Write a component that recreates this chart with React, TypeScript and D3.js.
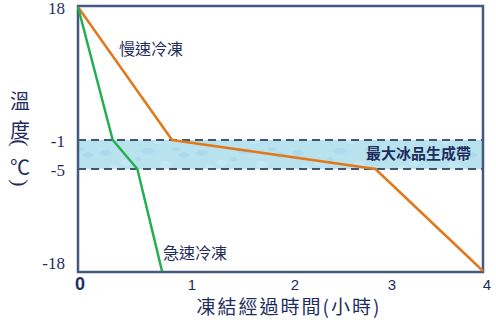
import React from "react";
import * as d3 from "d3";

const tempTicks = [18, -1, -5, -18];
const timeTicks = [0, 1, 2, 3, 4];
const slowTime = [0, 0.84, 2.85, 4];
const slowTemp = [18, -1, -5, -18];
const fastTime = [0, 0.31, 0.53, 0.75];
const fastTemp = [18, -1, -5, -18];
const bandRange = [-1, -5];
const yTitle = ["溫", "度", "(", "℃", ")"];

const W = 496, H = 323;
const x = d3.scaleLinear().domain(timeTicks).range([78, 190, 293, 390, 483]);
const y = d3.scaleLinear().domain(tempTicks).range([7, 140, 169, 271]);

const navy = "#1f2d5e";
const frame = "#44597f";

export default function App() {
  const line = d3.line<[number, number]>().x(d => x(d[0])).y(d => y(d[1]));
  const slow = line(slowTime.map((t, i) => [t, slowTemp[i]]));
  const fast = line(fastTime.map((t, i) => [t, fastTemp[i]]));
  const cjk = "'Noto Sans CJK TC', sans-serif";
  const drops = [
    [10, 8, 6, 3], [30, 18, 5, 3], [52, 6, 7, 3], [70, 20, 6, 4], [88, 10, 5, 3],
    [18, 22, 4, 2], [42, 14, 3, 2], [62, 26, 4, 2], [80, 4, 4, 2],
  ];
  const yPos = [100, 129, 143, 166, 183];
  return (
    <svg width={W} height={H} style={{ position: "absolute", left: 0, top: 0, background: "#fff" }}>
      <defs>
        <pattern id="ice" patternUnits="userSpaceOnUse" width={96} height={29}>
          <rect width={96} height={29} fill="#b9e2ef" />
          {drops.map((d, i) => (
            <ellipse key={i} cx={d[0]} cy={d[1]} rx={d[2]} ry={d[3]} fill={i % 2 ? "#cdebf4" : "#a4d6e8"} opacity={0.6} />
          ))}
        </pattern>
      </defs>
      <rect x={x(0)} y={y(bandRange[0])} width={x(4) - x(0)} height={y(bandRange[1]) - y(bandRange[0])} fill="url(#ice)" />
      {bandRange.map(v => (
        <line key={v} x1={x(0)} x2={x(4)} y1={y(v)} y2={y(v)} stroke="#3e5573" strokeWidth={2} strokeDasharray="8,5" />
      ))}
      <text x={471} y={159} textAnchor="end" fontFamily={cjk} fontSize={15} fontWeight={600} fill={navy}>最大冰品生成帶</text>
      <rect x={x(0)} y={6} width={x(4) - x(0)} height={y(-18) + 1 - 6} fill="none" stroke={frame} strokeWidth={2.5} />
      <path d={slow || ""} fill="none" stroke="#e2781c" strokeWidth={2.5} />
      <path d={fast || ""} fill="none" stroke="#22b04e" strokeWidth={2.5} />
      <text x={119} y={55} fontFamily={cjk} fontSize={16} fill={navy}>慢速冷凍</text>
      <text x={163} y={259} fontFamily={cjk} fontSize={16} fill={navy}>急速冷凍</text>
      {tempTicks.map(v => (
        <text key={v} x={65} y={y(v) + (v === -18 ? -8 : 1)} dy="0.35em" textAnchor="end"
          fontFamily="'Liberation Serif', serif" fontSize={17} fill={navy}>{v}</text>
      ))}
      {timeTicks.map(v => (
        <text key={v} x={x(v) + (v === 0 ? 2 : v === 4 ? 4 : 2)} y={290} textAnchor="middle"
          fontFamily="'Liberation Sans', sans-serif" fontSize={v === 0 ? 18 : 15} fontWeight={v === 0 ? 700 : 400} fill={navy}>{v}</text>
      ))}
      <text x={289} y={314} textAnchor="middle" fontFamily={cjk} fontSize={19} letterSpacing={2} fill={navy}>凍結經過時間(小時)</text>
      {yTitle.map((c, i) => {
        const rot = c === "(" || c === ")";
        return (
          <text key={i} x={20} y={yPos[i]} dominantBaseline="central" textAnchor="middle"
            transform={rot ? `rotate(90,20,${yPos[i]})` : undefined}
            fontFamily={rot ? "'Liberation Serif', serif" : cjk} fontSize={rot ? 22 : 20} fill={navy}>{c}</text>
        );
      })}
    </svg>
  );
}
